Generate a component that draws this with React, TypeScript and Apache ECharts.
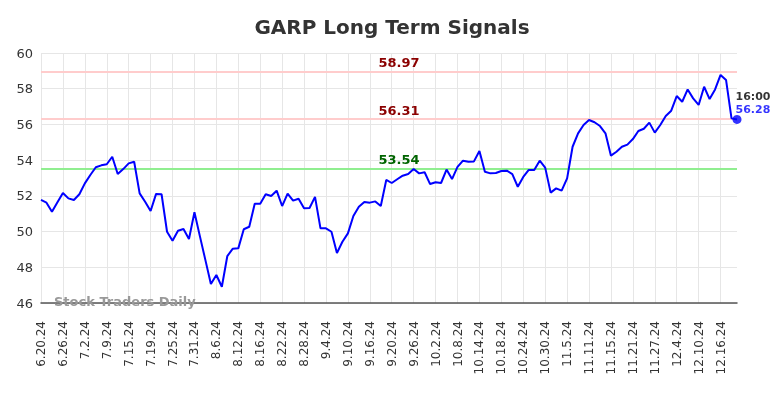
import React, { useEffect, useRef } from "react";
import * as echarts from "echarts";

const TITLE = "GARP Long Term Signals";
const WATERMARK = "Stock Traders Daily";

const dates: string[] = [
  "6.20.24","6.21.24","6.24.24","6.25.24","6.26.24","6.27.24","6.28.24",
  "7.1.24","7.2.24","7.3.24","7.5.24","7.8.24","7.9.24","7.10.24","7.11.24","7.12.24",
  "7.15.24","7.16.24","7.17.24","7.18.24","7.19.24","7.22.24","7.23.24","7.24.24","7.25.24","7.26.24",
  "7.29.24","7.30.24","7.31.24",
  "8.1.24","8.2.24","8.5.24","8.6.24","8.7.24","8.8.24","8.9.24",
  "8.12.24","8.13.24","8.14.24","8.15.24","8.16.24","8.19.24","8.20.24","8.21.24","8.22.24","8.23.24",
  "8.26.24","8.27.24","8.28.24","8.29.24","8.30.24",
  "9.3.24","9.4.24","9.5.24","9.6.24","9.9.24","9.10.24","9.11.24","9.12.24","9.13.24",
  "9.16.24","9.17.24","9.18.24","9.19.24","9.20.24","9.23.24","9.24.24","9.25.24","9.26.24","9.27.24","9.30.24",
  "10.1.24","10.2.24","10.3.24","10.4.24","10.7.24","10.8.24","10.9.24","10.10.24","10.11.24",
  "10.14.24","10.15.24","10.16.24","10.17.24","10.18.24","10.21.24","10.22.24","10.23.24","10.24.24","10.25.24",
  "10.28.24","10.29.24","10.30.24","10.31.24",
  "11.1.24","11.4.24","11.5.24","11.6.24","11.7.24","11.8.24","11.11.24","11.12.24","11.13.24","11.14.24","11.15.24",
  "11.18.24","11.19.24","11.20.24","11.21.24","11.22.24","11.25.24","11.26.24","11.27.24","11.29.24",
  "12.2.24","12.3.24","12.4.24","12.5.24","12.6.24","12.9.24","12.10.24","12.11.24","12.12.24","12.13.24",
  "12.16.24","12.17.24","12.18.24","12.19.24"
];

const prices: number[] = [
  51.77, 51.62, 51.11, 51.64, 52.16, 51.86, 51.77, 52.09, 52.70, 53.17,
  53.60, 53.71, 53.77, 54.19, 53.22, 53.50, 53.82, 53.91, 52.14, 51.67,
  51.15, 52.11, 52.09, 49.99, 49.49, 50.05, 50.14, 49.58, 51.08, 49.73,
  48.40, 47.06, 47.57, 46.91, 48.63, 49.04, 49.06, 50.13, 50.27, 51.56,
  51.56, 52.09, 51.99, 52.29, 51.43, 52.12, 51.73, 51.84, 51.30, 51.32,
  51.94, 50.18, 50.18, 49.99, 48.80, 49.43, 49.90, 50.87, 51.39, 51.66,
  51.62, 51.69, 51.43, 52.89, 52.72, 52.93, 53.13, 53.22, 53.50, 53.26,
  53.32, 52.66, 52.76, 52.72, 53.47, 52.94, 53.62, 53.97, 53.91, 53.93,
  54.51, 53.35, 53.26, 53.28, 53.39, 53.41, 53.22, 52.51, 53.06, 53.45,
  53.45, 53.97, 53.58, 52.18, 52.42, 52.29, 52.98, 54.75, 55.50, 55.97,
  56.25, 56.12, 55.91, 55.50, 54.25, 54.47, 54.75, 54.87, 55.18, 55.63,
  55.76, 56.10, 55.54, 55.97, 56.47, 56.77, 57.59, 57.27, 57.96, 57.46,
  57.09, 58.11, 57.42, 57.96, 58.77, 58.49, 56.34, 56.28
];

const upperLevels: number[] = [58.97, 56.31];
const lowerLevels: number[] = [53.54];
const lastTime = "16:00";
const yMin = 46;
const yMax = 60;
const yStep = 2;

export default function App() {
  const ref = useRef<HTMLDivElement>(null);
  useEffect(() => {
    if (!ref.current) return;
    const chart = echarts.init(ref.current, null, { renderer: "svg" });
    const font = "DejaVu Sans";
    const lastIdx = prices.length - 1;
    const lastVal = prices[lastIdx];
    const markData: any[] = [
      ...upperLevels.map((v) => ({
        yAxis: v,
        lineStyle: { color: "#ffcccc", width: 2, type: "solid" },
        label: { color: "#8b0000" },
      })),
      ...lowerLevels.map((v) => ({
        yAxis: v,
        lineStyle: { color: "#90ee90", width: 2, type: "solid" },
        label: { color: "#006400" },
      })),
    ];
    chart.setOption({
      animation: false,
      textStyle: { fontFamily: font },
      title: {
        text: TITLE,
        left: "center",
        top: 12,
        textStyle: { fontFamily: font, fontSize: 20, fontWeight: "bold", color: "#333" },
      },
      grid: { left: 41, right: 47, top: 53, bottom: 95, containLabel: false },
      xAxis: {
        type: "category",
        data: dates,
        boundaryGap: false,
        axisLine: { show: true, lineStyle: { color: "#555", width: 1.5 } },
        axisTick: { show: false },
        axisLabel: {
          interval: 3,
          rotate: 90,
          margin: 18,
          fontSize: 12,
          color: "#333",
          fontFamily: font,
        },
        splitLine: { show: true, interval: 3, lineStyle: { color: "#e6e6e6", width: 1 } },
      },
      yAxis: {
        type: "value",
        min: yMin,
        max: yMax,
        interval: yStep,
        axisLine: { show: false },
        axisTick: { show: false },
        axisLabel: { fontSize: 13, color: "#333", margin: 8, fontFamily: font },
        splitLine: { show: true, lineStyle: { color: "#e6e6e6", width: 1 } },
      },
      graphic: [
        {
          type: "text",
          left: 54,
          top: 295,
          style: {
            text: WATERMARK,
            fill: "#999",
            font: "bold 13px 'DejaVu Sans'",
          },
          z: 100,
        },
      ],
      series: [
        {
          type: "line",
          data: prices,
          symbol: "none",
          lineStyle: { color: "#0000ff", width: 2 },
          z: 5,
          markLine: {
            silent: true,
            symbol: ["none", "none"],
            data: markData,
            label: {
              show: true,
              position: "insideMiddleTop",
              formatter: (p: any) => p.value.toFixed(2),
              fontSize: 13,
              fontWeight: "bold",
              fontFamily: font,
              distance: 2,
              padding: [0, 0, 0, 20],
            },
            z: 2,
          },
        },
        {
          type: "scatter",
          data: prices.map((v, i) => (i === lastIdx ? v : null)),
          symbol: "circle",
          symbolSize: 9,
          itemStyle: { color: "#0000ff" },
          z: 6,
          label: {
            show: true,
            position: [3, -25],
            align: "left",
            formatter: () => `{t|${lastTime}}\n{v|${lastVal.toFixed(2)}}`,
            rich: {
              t: { color: "#000", fontWeight: "bold", fontSize: 11, fontFamily: font, lineHeight: 13 },
              v: { color: "#0000ff", fontWeight: "bold", fontSize: 11, fontFamily: font, lineHeight: 13 },
            },
          },
        },
      ],
    });
    return () => chart.dispose();
  }, []);
  return (
    <div
      ref={ref}
      style={{ position: "fixed", left: 0, top: 0, width: 784, height: 398 }}
    />
  );
}
